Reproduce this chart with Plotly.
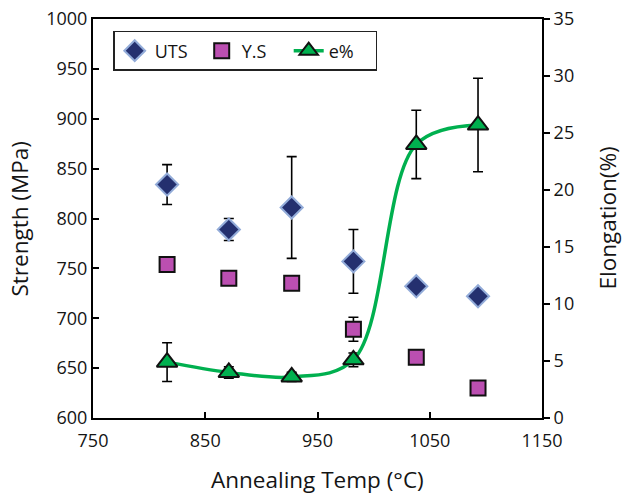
import plotly.graph_objects as go

temps = [816, 871, 927, 982, 1038, 1093]
uts = [834, 789, 811, 757, 732, 722]
uts_err = [20, 11, 51, 32, 2, 1]
ys = [754, 740, 735, 689, 661, 630]
ys_err = [2, 2, 7, 12, 4, 1]
elong = [4.9, 4.0, 3.6, 5.1, 24.0, 25.7]
elong_err = [1.7, 0.5, 0.4, 0.6, 3.0, 4.1]

FONT = "Open Sans"
TXT = "#141414"
fig = go.Figure()
fig.add_trace(go.Scatter(
    x=temps, y=uts, name="UTS", mode="markers",
    marker=dict(symbol="diamond", size=17, color="#24306f",
                line=dict(color="#93acd9", width=2)),
    error_y=dict(type="data", array=uts_err, color="black", thickness=1.6, width=5),
))
fig.add_trace(go.Scatter(
    x=temps, y=ys, name="Y.S", mode="markers",
    marker=dict(symbol="square", size=15, color="#bb4fb1",
                line=dict(color="#111111", width=2)),
    error_y=dict(type="data", array=ys_err, color="black", thickness=1.6, width=5),
))
fig.add_trace(go.Scatter(
    x=temps, y=elong, name="e%", mode="lines+markers", yaxis="y2",
    line=dict(color="#00b04f", width=3.5, shape="spline", smoothing=1.0),
    marker=dict(symbol="triangle-up", size=18, color="#00b04f",
                line=dict(color="#111111", width=2)),
    error_y=dict(type="data", array=elong_err, color="black", thickness=1.6, width=5),
))

title_font = dict(family=FONT, size=22.5, color=TXT)
annotations = [
    dict(text="Annealing Temp (°C)", x=0.5, y=-0.153, xref="paper", yref="paper",
         xanchor="center", yanchor="middle", showarrow=False, font=title_font),
    dict(text="Strength (MPa)", x=-0.1626, y=0.5, xref="paper", yref="paper",
         xanchor="center", yanchor="middle", showarrow=False, textangle=-90, font=title_font),
    dict(text="Elongation(%)", x=1.1448, y=0.5, xref="paper", yref="paper",
         xanchor="center", yanchor="middle", showarrow=False, textangle=-90, font=title_font),
]

fig.update_layout(
    width=628, height=498,
    margin=dict(l=93, r=86, t=19, b=80, autoexpand=False),
    paper_bgcolor="white", plot_bgcolor="white",
    font=dict(family=FONT, size=18, color=TXT),
    showlegend=True,
    legend=dict(orientation="h", x=0.045, y=0.97, xanchor="left", yanchor="top",
                bordercolor="#222222", borderwidth=1.5, bgcolor="white",
                font=dict(size=18, color=TXT), itemwidth=30, tracegroupgap=0,
                entrywidth=42, entrywidthmode="pixels"),
    annotations=annotations,
    xaxis=dict(range=[750, 1150], dtick=100, tick0=750, showgrid=False, zeroline=False,
               showline=True, linecolor="black", linewidth=2, mirror=True,
               ticks="inside", ticklen=6, tickwidth=1.5, tickcolor="black",
               ticklabelstandoff=5, automargin=False),
    yaxis=dict(range=[600, 1000], dtick=50, showgrid=False, zeroline=False,
               showline=True, linecolor="black", linewidth=2, automargin=False,
               ticks="inside", ticklen=6, tickwidth=1.5, tickcolor="black"),
    yaxis2=dict(range=[0, 35], dtick=5, overlaying="y", side="right", showgrid=False,
                zeroline=False, showline=True, linecolor="black", linewidth=2,
                automargin=False,
                ticks="outside", ticklen=6, tickwidth=1.5, tickcolor="black"),
)

fig.write_html("out.html")
